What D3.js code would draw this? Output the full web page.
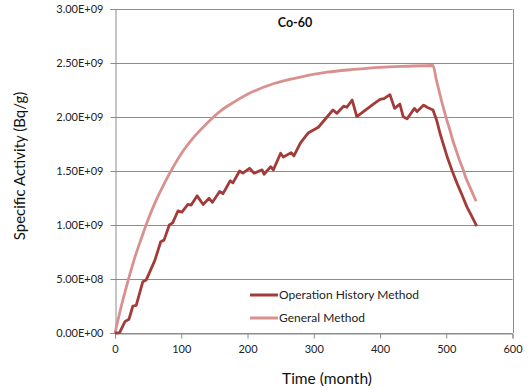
<html>
<head>
<script src="https://d3js.org/d3.v7.min.js"></script>
<style>
body {margin:0; background:#fff;}
text {font-family: Lato, "Open Sans", sans-serif;}
</style>
</head>
<body>
<svg id="chart" width="532" height="389"></svg>
<script>
// General Method (smooth build-up then decay)
var genTime = [0,10,20,30,40,50,60,70,80,100,120,140,160,180,200,240,280,320,360,400,440,480,485,490,495,500,505,510,515,520,525,530,535,540,545];
var genAct  = [0,0.26e9,0.49e9,0.70e9,0.88e9,1.05e9,1.20e9,1.33e9,1.45e9,1.66e9,1.82e9,1.95e9,2.06e9,2.14e9,2.21e9,2.31e9,2.37e9,2.415e9,2.44e9,2.46e9,2.47e9,2.477e9,2.345e9,2.22e9,2.10e9,1.99e9,1.89e9,1.78e9,1.69e9,1.60e9,1.52e9,1.43e9,1.36e9,1.29e9,1.22e9];

// Operation History Method (jagged)
var ohmTime = [0,7,15,21,27,32,42,47,60,69,74,82,87,95,101,110,115,124,133,142,147,158,163,174,178,188,193,203,210,222,225,235,239,250,254,266,270,280,292,307,320,329,335,345,350,358,365,375,390,400,406,415,422,430,435,441,452,456,466,471,480,486,491,496,502,509,516,524,531,539,546];
var ohmAct  = [0,0.003e9,0.105e9,0.127e9,0.25e9,0.256e9,0.475e9,0.49e9,0.67e9,0.845e9,0.86e9,1.0e9,1.02e9,1.13e9,1.12e9,1.19e9,1.185e9,1.27e9,1.19e9,1.247e9,1.21e9,1.31e9,1.29e9,1.41e9,1.39e9,1.50e9,1.48e9,1.525e9,1.48e9,1.51e9,1.47e9,1.54e9,1.51e9,1.664e9,1.63e9,1.67e9,1.64e9,1.76e9,1.855e9,1.905e9,2.0e9,2.065e9,2.034e9,2.10e9,2.09e9,2.157e9,2.003e9,2.05e9,2.12e9,2.164e9,2.17e9,2.207e9,2.08e9,2.12e9,2.003e9,1.984e9,2.08e9,2.05e9,2.11e9,2.09e9,2.065e9,1.96e9,1.84e9,1.74e9,1.62e9,1.50e9,1.39e9,1.275e9,1.17e9,1.075e9,0.99e9];

var xTicks = [0,100,200,300,400,500,600];
var yTicks = [0,0.5e9,1.0e9,1.5e9,2.0e9,2.5e9,3.0e9];
var seriesNames = ["Operation History Method","General Method"];
var seriesColors = ["#A33B38","#D9918F"];

var svg = d3.select("#chart");
var x = d3.scaleLinear().domain([0,600]).range([115,512.5]);
var y = d3.scaleLinear().domain([0,3e9]).range([333,9]);

// gridlines
svg.append("g").selectAll("line").data(yTicks).enter().append("line")
  .attr("x1",x(0)).attr("x2",x(600))
  .attr("y1",function(d){return Math.round(y(d))+0.5}).attr("y2",function(d){return Math.round(y(d))+0.5})
  .style("stroke","#8c8c8c").style("stroke-width",1);
// right border
svg.append("line").attr("x1",Math.round(x(600))+0.5).attr("x2",Math.round(x(600))+0.5)
  .attr("y1",y(3e9)).attr("y2",y(0)).style("stroke","#8c8c8c");

// axes
var fmt = function(d){ return d.toExponential(2).toUpperCase().replace(/E\+(\d)$/,"E+0$1"); };
var yAxis = svg.append("g").attr("transform","translate("+(Math.round(x(0))+0.5)+",0)")
  .call(d3.axisLeft(y).tickValues(yTicks).tickSize(5).tickPadding(7).tickFormat(fmt));
var xAxis = svg.append("g").attr("transform","translate(0,"+(Math.round(y(0))+0.5)+")")
  .call(d3.axisBottom(x).tickValues(xTicks).tickSize(5).tickPadding(7));
[yAxis,xAxis].forEach(function(a){
  a.selectAll("path,line").style("stroke","#8c8c8c");
  a.selectAll("text").style("font-family","Lato, sans-serif").style("font-size","11px").style("fill","#222");
});

// lines
var line = d3.line().x(function(d){return x(d[0])}).y(function(d){return y(d[1])});
svg.append("path").datum(genTime.map(function(t,i){return [t,genAct[i]]}))
  .attr("d",line.curve(d3.curveMonotoneX))
  .style("fill","none").style("stroke",seriesColors[1]).style("stroke-width",2.8);
svg.append("path").datum(ohmTime.map(function(t,i){return [t,ohmAct[i]]}))
  .attr("d",line.curve(d3.curveLinear))
  .style("fill","none").style("stroke",seriesColors[0]).style("stroke-width",2.8).style("stroke-linejoin","round");

// title
svg.append("text").attr("x",295).attr("y",27).attr("text-anchor","middle")
  .style("font-size","12.5px").style("font-weight","bold").style("fill","#111").text("Co-60");

// legend
var leg = svg.append("g").selectAll("g").data(seriesNames).enter().append("g")
  .attr("transform",function(d,i){return "translate(250,"+(295+i*23)+")"});
leg.append("line").attr("x1",0).attr("x2",28).attr("y1",0).attr("y2",0)
  .style("stroke",function(d,i){return seriesColors[i]}).style("stroke-width",3);
leg.append("text").attr("x",29).attr("y",4).style("font-size","12px").style("fill","#222").text(function(d){return d});

// axis titles
svg.append("text").attr("x",327).attr("y",384).attr("text-anchor","middle")
  .style("font-size","15.5px").style("fill","#111").text("Time (month)");
svg.append("text").attr("transform","translate(25,166) rotate(-90)").attr("text-anchor","middle")
  .style("font-size","15px").style("fill","#111").text("Specific Activity (Bq/g)");
</script>
</body>
</html>
